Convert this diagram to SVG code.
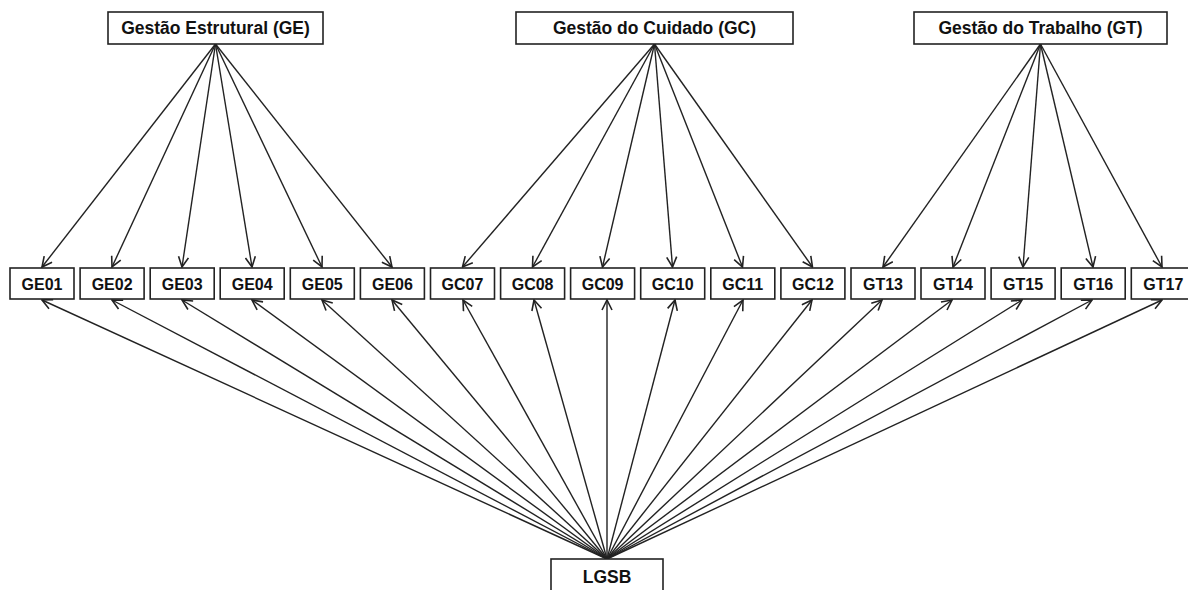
<svg xmlns="http://www.w3.org/2000/svg" width="1188" height="590" viewBox="0 0 1188 590">
<defs>
<marker id="ah" viewBox="0 0 12 12" refX="11" refY="6" markerWidth="12" markerHeight="12" markerUnits="userSpaceOnUse" orient="auto">
<path d="M1,1 L11,6 L1,11" fill="none" stroke="#222" stroke-width="1.6"/>
</marker>
<style>
.box{fill:#fff;stroke:#222;stroke-width:1.6}
.t{font-family:"Liberation Sans",Arial,sans-serif;font-weight:bold;fill:#111;text-anchor:middle}
.big{font-size:17.5px}
.sm{font-size:16px}
.c line{stroke:#222;stroke-width:1.4;marker-end:url(#ah)}
</style>
</defs>
<rect width="1188" height="590" fill="#fff"/>
<g class="c" id="connectors">
<line x1="215.5" y1="44" x2="42" y2="267"/>
<line x1="215.5" y1="44" x2="112" y2="267"/>
<line x1="215.5" y1="44" x2="182" y2="267"/>
<line x1="215.5" y1="44" x2="252" y2="267"/>
<line x1="215.5" y1="44" x2="322" y2="267"/>
<line x1="215.5" y1="44" x2="392" y2="267"/>
<line x1="654.5" y1="44" x2="462.5" y2="267"/>
<line x1="654.5" y1="44" x2="532.5" y2="267"/>
<line x1="654.5" y1="44" x2="602.5" y2="267"/>
<line x1="654.5" y1="44" x2="672.5" y2="267"/>
<line x1="654.5" y1="44" x2="742.5" y2="267"/>
<line x1="654.5" y1="44" x2="812.5" y2="267"/>
<line x1="1040.5" y1="44" x2="883" y2="267"/>
<line x1="1040.5" y1="44" x2="953" y2="267"/>
<line x1="1040.5" y1="44" x2="1023" y2="267"/>
<line x1="1040.5" y1="44" x2="1093" y2="267"/>
<line x1="1040.5" y1="44" x2="1162" y2="267"/>
<line x1="607" y1="559" x2="42" y2="300"/>
<line x1="607" y1="559" x2="112" y2="300"/>
<line x1="607" y1="559" x2="182" y2="300"/>
<line x1="607" y1="559" x2="252" y2="300"/>
<line x1="607" y1="559" x2="322" y2="300"/>
<line x1="607" y1="559" x2="392" y2="300"/>
<line x1="607" y1="559" x2="463" y2="300"/>
<line x1="607" y1="559" x2="534" y2="300"/>
<line x1="607" y1="559" x2="607" y2="300"/>
<line x1="607" y1="559" x2="675" y2="300"/>
<line x1="607" y1="559" x2="743" y2="300"/>
<line x1="607" y1="559" x2="812" y2="300"/>
<line x1="607" y1="559" x2="882" y2="300"/>
<line x1="607" y1="559" x2="952" y2="300"/>
<line x1="607" y1="559" x2="1022" y2="300"/>
<line x1="607" y1="559" x2="1092" y2="300"/>
<line x1="607" y1="559" x2="1162" y2="300"/>
</g>
<g id="GE"><rect class="box" x="108" y="12" width="215" height="32"/><text class="t big" x="215.5" y="34">Gestão Estrutural (GE)</text></g>
<g id="GC"><rect class="box" x="516" y="12" width="277" height="32"/><text class="t big" x="654.5" y="34">Gestão do Cuidado (GC)</text></g>
<g id="GT"><rect class="box" x="914" y="12" width="253" height="32"/><text class="t big" x="1040.5" y="34">Gestão do Trabalho (GT)</text></g>
<g id="GE01"><rect class="box" x="10" y="268" width="64" height="31"/><text class="t sm" x="42" y="290">GE01</text></g>
<g id="GE02"><rect class="box" x="80.1" y="268" width="64" height="31"/><text class="t sm" x="112.1" y="290">GE02</text></g>
<g id="GE03"><rect class="box" x="150.2" y="268" width="64" height="31"/><text class="t sm" x="182.2" y="290">GE03</text></g>
<g id="GE04"><rect class="box" x="220.2" y="268" width="64" height="31"/><text class="t sm" x="252.2" y="290">GE04</text></g>
<g id="GE05"><rect class="box" x="290.3" y="268" width="64" height="31"/><text class="t sm" x="322.3" y="290">GE05</text></g>
<g id="GE06"><rect class="box" x="360.4" y="268" width="64" height="31"/><text class="t sm" x="392.4" y="290">GE06</text></g>
<g id="GC07"><rect class="box" x="430.5" y="268" width="64" height="31"/><text class="t sm" x="462.5" y="290">GC07</text></g>
<g id="GC08"><rect class="box" x="500.6" y="268" width="64" height="31"/><text class="t sm" x="532.6" y="290">GC08</text></g>
<g id="GC09"><rect class="box" x="570.6" y="268" width="64" height="31"/><text class="t sm" x="602.6" y="290">GC09</text></g>
<g id="GC10"><rect class="box" x="640.7" y="268" width="64" height="31"/><text class="t sm" x="672.7" y="290">GC10</text></g>
<g id="GC11"><rect class="box" x="710.8" y="268" width="64" height="31"/><text class="t sm" x="742.8" y="290">GC11</text></g>
<g id="GC12"><rect class="box" x="780.9" y="268" width="64" height="31"/><text class="t sm" x="812.9" y="290">GC12</text></g>
<g id="GT13"><rect class="box" x="851" y="268" width="64" height="31"/><text class="t sm" x="883" y="290">GT13</text></g>
<g id="GT14"><rect class="box" x="921" y="268" width="64" height="31"/><text class="t sm" x="953" y="290">GT14</text></g>
<g id="GT15"><rect class="box" x="991.1" y="268" width="64" height="31"/><text class="t sm" x="1023.1" y="290">GT15</text></g>
<g id="GT16"><rect class="box" x="1061.2" y="268" width="64" height="31"/><text class="t sm" x="1093.2" y="290">GT16</text></g>
<g id="GT17"><rect class="box" x="1131.3" y="268" width="64" height="31"/><text class="t sm" x="1163.3" y="290">GT17</text></g>
<g id="LGSB"><rect class="box" x="551" y="559" width="112" height="36"/><text class="t big" x="607" y="583">LGSB</text></g>
</svg>
